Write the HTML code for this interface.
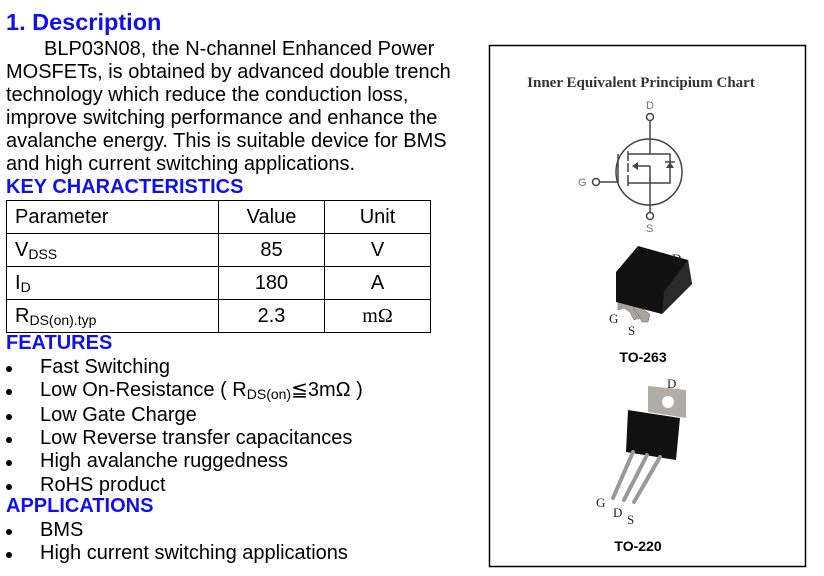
<!DOCTYPE html>
<html><head><style>
body{margin:0;width:824px;height:576px;background:#fff;position:relative;overflow:hidden;font-family:"Liberation Sans",sans-serif;color:#000}
.t{position:absolute;font-size:20px;line-height:23px;white-space:nowrap}
.h{position:absolute;font-weight:bold;color:#1010f0;white-space:nowrap;font-size:20px;line-height:23px}
.b{position:absolute;left:6px;width:6px;height:6px;border-radius:50%;background:#000}
table{position:absolute;left:6px;top:200px;border-collapse:collapse;font-size:20px}
td{border:1px solid #000;height:33px;padding:0;box-sizing:border-box}
sub{font-size:14px;vertical-align:-3px}
</style></head><body>
<div class="h" style="left:6px;top:11px;font-size:23.5px">1. Description</div>
<div class="t" style="left:44px;top:38px">BLP03N08, the N-channel Enhanced Power</div>
<div class="t" style="left:6px;top:61px">MOSFETs, is obtained by advanced double trench</div>
<div class="t" style="left:6px;top:84px">technology which reduce the conduction loss,</div>
<div class="t" style="left:6px;top:107px">improve switching performance and enhance the</div>
<div class="t" style="left:6px;top:130px">avalanche energy. This is suitable device for BMS</div>
<div class="t" style="left:6px;top:153px">and high current switching applications.</div>
<div class="h" style="left:6px;top:176px">KEY CHARACTERISTICS</div>
<table>
<tr><td style="width:212px;padding-left:8px">Parameter</td><td style="width:106px;text-align:center">Value</td><td style="width:106px;text-align:center">Unit</td></tr>
<tr><td style="padding-left:8px">V<sub>DSS</sub></td><td style="text-align:center">85</td><td style="text-align:center">V</td></tr>
<tr><td style="padding-left:8px">I<sub>D</sub></td><td style="text-align:center">180</td><td style="text-align:center">A</td></tr>
<tr><td style="padding-left:8px">R<sub>DS(on).typ</sub></td><td style="text-align:center">2.3</td><td style="text-align:center;font-family:'Liberation Serif',serif">mΩ</td></tr>
</table>
<div class="h" style="left:6px;top:332px">FEATURES</div>
<div class="b" style="top:366px"></div><div class="t" style="left:40px;top:356px">Fast Switching</div>
<div class="b" style="top:389px"></div><div class="t" style="left:40px;top:379px">Low On-Resistance ( R<sub>DS(on)</sub>≦3mΩ )</div>
<div class="b" style="top:414px"></div><div class="t" style="left:40px;top:404px">Low Gate Charge</div>
<div class="b" style="top:437px"></div><div class="t" style="left:40px;top:427px">Low Reverse transfer capacitances</div>
<div class="b" style="top:460px"></div><div class="t" style="left:40px;top:450px">High avalanche ruggedness</div>
<div class="b" style="top:484px"></div><div class="t" style="left:40px;top:474px">RoHS product</div>
<div class="h" style="left:6px;top:495px">APPLICATIONS</div>
<div class="b" style="top:529px"></div><div class="t" style="left:40px;top:519px">BMS</div>
<div class="b" style="top:552px"></div><div class="t" style="left:40px;top:542px">High current switching applications</div>

<svg style="position:absolute;left:0;top:0" width="824" height="576">
<rect x="489.5" y="45.5" width="316" height="521" fill="none" stroke="#000" stroke-width="1.5"/>
<text x="641" y="87" text-anchor="middle" font-family="Liberation Serif,serif" font-weight="bold" font-size="15" fill="#333">Inner Equivalent Principium Chart</text>
<g stroke="#444" stroke-width="1.5" fill="none">
<circle cx="649" cy="172" r="33"/>
<circle cx="650" cy="117" r="3.5"/><circle cx="650" cy="216" r="3.5"/><circle cx="596" cy="182" r="3.5"/>
<path d="M650 121V154H628M628 154H670V183H628M650 166V212M628 183H650M599 182H618V154M628 151V161M628 163V172M628 175V186M650 166H634"/>
</g>
<path d="M632 166l6-4v8z" fill="#444"/><path d="M666 168h8l-4-6z" fill="#444"/><path d="M665 162h10" stroke="#444" stroke-width="1.5"/>
<g font-family="Liberation Sans,sans-serif" font-size="11" fill="#777">
<text x="646" y="109">D</text><text x="646" y="232">S</text><text x="578" y="186">G</text></g>
<path d="M618 296l10-4 6 4 0 10 6 4 0 8-6 2-4-8-6-4-6 2z" fill="#a8a49c" stroke="#666" stroke-width="0.5"/>
<path d="M634 300l10 2 0 8 6 4-2 8-6 0-4-8-4-4z" fill="#a8a49c" stroke="#666" stroke-width="0.5"/>
<path d="M616 272l22-26 50 14 4 24-30 30-46-12z" fill="#111"/>
<path d="M688 260l4 24-30 30 2-22z" fill="#2a2a2a"/>
<g font-family="Liberation Serif,serif" font-size="13" fill="#222">
<text x="672" y="263">D</text><text x="609" y="323">G</text><text x="628" y="335">S</text>
<text x="667" y="388">D</text><text x="596" y="507">G</text><text x="613" y="517">D</text><text x="627" y="524">S</text></g>
<text x="643" y="362" text-anchor="middle" font-weight="bold" font-size="14" font-family="Liberation Sans,sans-serif">TO-263</text>
<text x="638" y="551" text-anchor="middle" font-weight="bold" font-size="14" font-family="Liberation Sans,sans-serif">TO-220</text>
<path d="M648 386l38 4 0 28-38-6z" fill="#b0ada8"/>
<circle cx="668" cy="402" r="6" fill="#fff"/>
<path d="M628 410l52 8-4 42-50-8z" fill="#111"/>
<g stroke="#999" stroke-width="4" stroke-linecap="round">
<path d="M633 452L613 498M647 455L624 500M660 457L634 502"/></g>
</svg>
</body></html>
